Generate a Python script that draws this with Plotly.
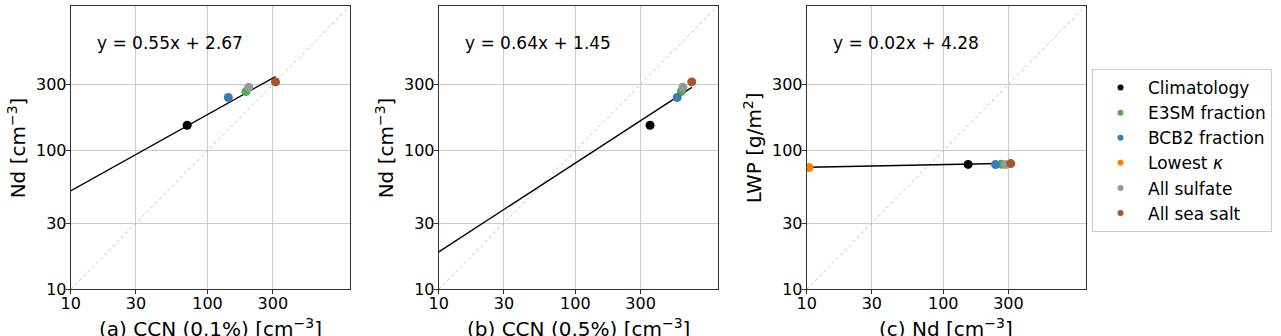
import numpy as np
import plotly.graph_objects as go

# experiments, in legend order
names = ['Climatology', 'E3SM fraction', 'BCB2 fraction', 'Lowest <i>κ</i>', 'All sulfate', 'All sea salt']
colors = ['#000000', '#4daf4a', '#377eb8', '#ff7f00', '#999999', '#a65628']

# values
ccn01 = [71, 191, 142, 4, 200, 314]
ccn05 = [352, 595, 556, 7, 612, 711]
nd = [152, 266, 241, 10.4, 286, 312]
lwp = [79.4, 79.6, 79.2, 75.5, 79.3, 80.5]

# log-log fits, ln(y) = a*ln(x) + b
fit_slope = [0.55, 0.64, 0.02]
fit_icept = [2.67, 1.45, 4.28]

tick_vals = [10, 30, 100, 300]
tick_text = ['10', '30', '100', '300']
lo, hi = 10, 1100

panels = [
    (ccn01, nd, '(a) CCN (0.1%) [cm<sup>−3</sup>]', 'Nd [cm<sup>−3</sup>]'),
    (ccn05, nd, '(b) CCN (0.5%) [cm<sup>−3</sup>]', 'Nd [cm<sup>−3</sup>]'),
    (nd, lwp, '(c) Nd [cm<sup>−3</sup>]', 'LWP [g/m<sup>2</sup>]'),
]

W, H = 1281, 336
x_px = [(70.7, 350), (438.7, 717.7), (806.7, 1085.5)]
y_dom = [(H - 289.3) / H, (H - 6) / H]

FONT = 'DejaVu Sans'
fig = go.Figure()

for i, (xs, ys, xt, yt) in enumerate(panels):
    n = '' if i == 0 else str(i + 1)
    xa, ya = 'x' + n, 'y' + n

    # 1:1 line
    fig.add_trace(go.Scatter(x=[lo, hi], y=[lo, hi], mode='lines', xaxis=xa, yaxis=ya,
                             line=dict(color='#c0c0c0', width=1, dash='dot'),
                             showlegend=False, hoverinfo='skip'))

    # fit line over the data range
    xf = np.array([min(xs), max(xs)], dtype=float)
    yf = np.exp(fit_slope[i] * np.log(xf) + fit_icept[i])
    fig.add_trace(go.Scatter(x=xf, y=yf, mode='lines', xaxis=xa, yaxis=ya,
                             line=dict(color='black', width=1.4),
                             showlegend=False, hoverinfo='skip'))

    for k in range(len(names)):
        fig.add_trace(go.Scatter(x=[xs[k]], y=[ys[k]], mode='markers', xaxis=xa, yaxis=ya,
                                 marker=dict(color=colors[k], size=9),
                                 name=names[k], showlegend=False))

    fig.add_annotation(xref=xa + ' domain', yref=ya + ' domain', x=0.086, y=0.87,
                       xanchor='left', yanchor='middle', showarrow=False,
                       text=f'y = {fit_slope[i]:.2f}x + {fit_icept[i]:.2f}',
                       font=dict(family=FONT, size=17, color='black'))

    # axis titles
    fig.add_annotation(xref=xa + ' domain', yref=ya + ' domain', x=0.5, y=0,
                       xanchor='center', yanchor='middle', yshift=-39, showarrow=False,
                       text=xt, font=dict(family=FONT, size=20, color='black'))
    fig.add_annotation(xref=xa + ' domain', yref=ya + ' domain', x=0, y=0.5,
                       xanchor='center', yanchor='middle', xshift=-54, textangle=-90,
                       showarrow=False, text=yt, font=dict(family=FONT, size=20, color='black'))

    ax = dict(type='log', range=[np.log10(lo), np.log10(hi)],
              tickvals=tick_vals, ticktext=tick_text,
              showgrid=True, gridcolor='#cccccc', gridwidth=1,
              showline=True, linecolor='#333333', linewidth=1, mirror=True,
              ticks='outside', ticklen=4, tickcolor='#333333',
              tickfont=dict(family=FONT, size=16, color='black'),
              zeroline=False, automargin=False)
    x0, x1 = x_px[i]
    fig.update_layout(**{
        'xaxis' + n: dict(ax, domain=[x0 / W, x1 / W], anchor=ya, ticklabelstandoff=-5),
        'yaxis' + n: dict(ax, domain=y_dom, anchor=xa, ticklabelstandoff=-4),
    })

# legend-only entries with small dots
for k in range(len(names)):
    fig.add_trace(go.Scatter(x=[None], y=[None], mode='markers', xaxis='x3', yaxis='y3',
                             marker=dict(color=colors[k], size=6), name=names[k], showlegend=True))

fig.update_layout(
    width=W, height=H,
    margin=dict(l=0, r=0, t=0, b=0),
    paper_bgcolor='white', plot_bgcolor='white',
    font=dict(family=FONT, color='black'),
    legend=dict(x=1092 / W, y=(H - 69) / H, xanchor='left', yanchor='top',
                bordercolor='#cccccc', borderwidth=1, bgcolor='white',
                font=dict(family=FONT, size=17, color='black'),
                tracegroupgap=0, itemwidth=45),
    showlegend=True,
)

fig.write_html('out.html', config={'displayModeBar': False},
               post_script="document.body.style.margin='0';")
